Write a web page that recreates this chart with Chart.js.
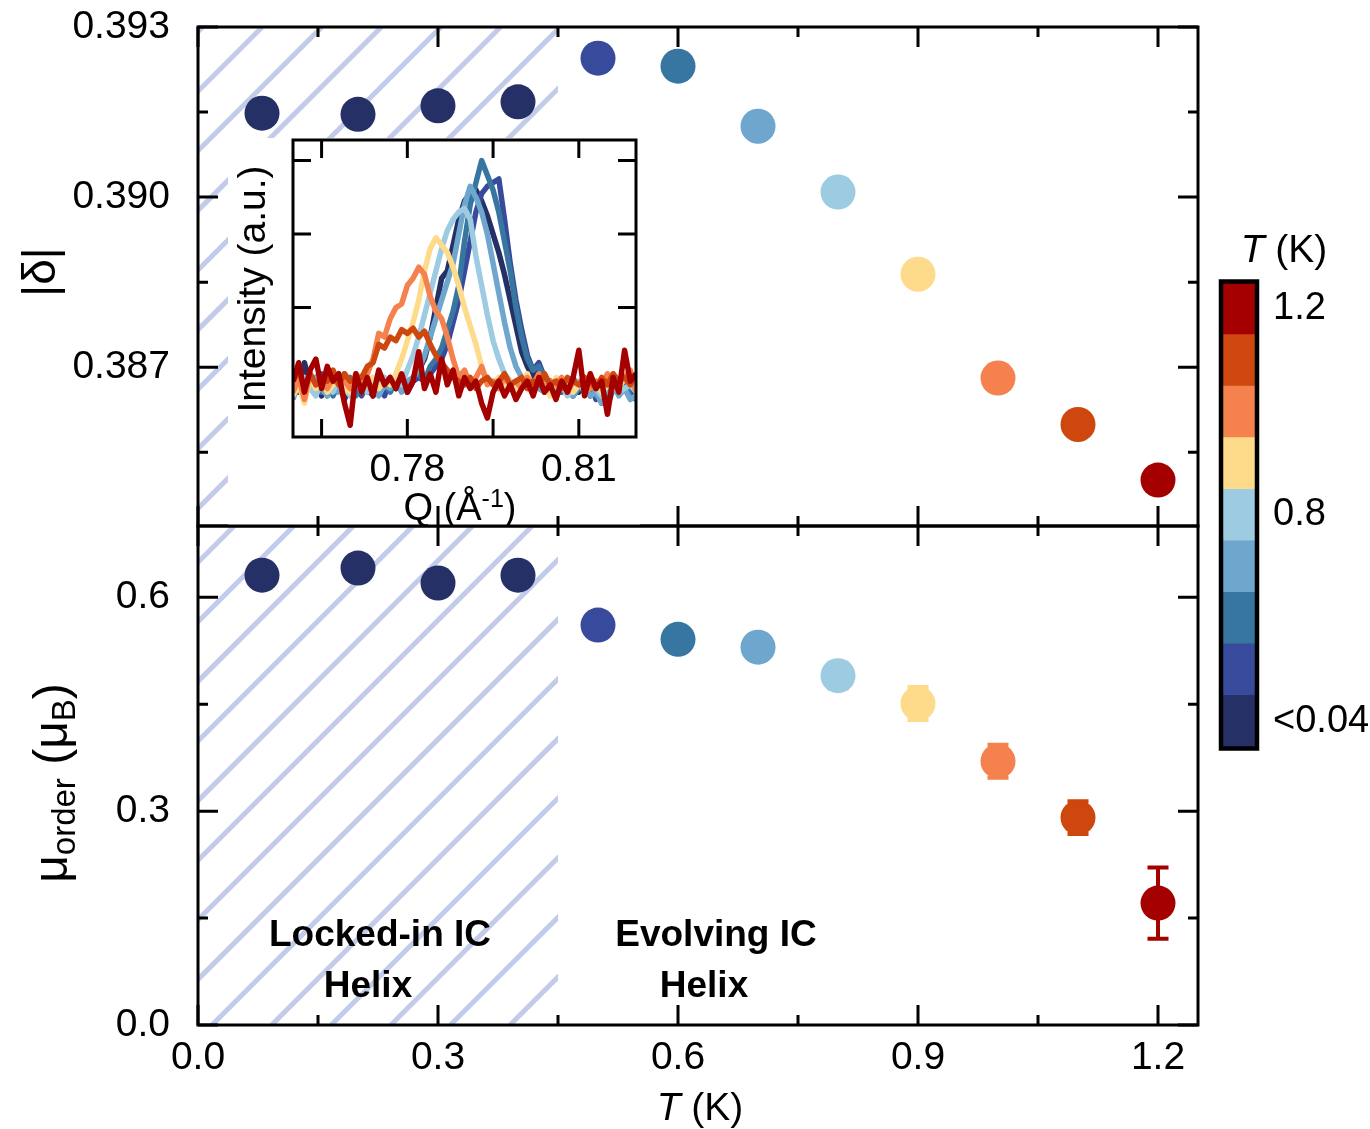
<!DOCTYPE html>
<html lang="en">
<head>
<meta charset="utf-8">
<title>delta y momento vs T</title>
<script src="https://cdn.jsdelivr.net/npm/chart.js@4.4.0/dist/chart.umd.min.js"></script>
<style>
  html, body { margin: 0; padding: 0; background: #fff; }
  body { position: relative; width: 1370px; height: 1129px; overflow: hidden; }
  canvas { position: absolute; }
</style>
</head>
<body>
<canvas id="graficoInferior" width="1220" height="649" style="left:0;top:480px"></canvas>
<canvas id="graficoSuperior" width="1220" height="596" style="left:0;top:-20px"></canvas>
<canvas id="graficoInset" width="420" height="388" style="left:228px;top:138px"></canvas>
<canvas id="graficoBarra" width="165" height="570" style="left:1205px;top:220px"></canvas>
<script>
const FUENTE = "'Liberation Sans', Arial, Helvetica, sans-serif";
Chart.defaults.font.family = FUENTE;
Chart.defaults.color = '#000';

// Datos de los paneles principales
const temperaturas = [0.08, 0.2, 0.3, 0.4, 0.5, 0.6, 0.7, 0.8, 0.9, 1.0, 1.1, 1.2];
const deltaValores = [0.39148, 0.39146, 0.39161, 0.39168, 0.39245, 0.39231, 0.39125, 0.39009, 0.38864, 0.38681, 0.38599, 0.38501];
const momentoValores = [0.631, 0.641, 0.620, 0.631, 0.561, 0.541, 0.530, 0.490, 0.451, 0.370, 0.291, 0.171];
const momentoErrores = [0.012, 0.012, 0.012, 0.012, 0.014, 0.015, 0.016, 0.018, 0.023, 0.023, 0.023, 0.050];

// Escala de colores (de <0.04 K a 1.2 K)
const escalaColores = ['#253066', '#384a9b', '#3776a1', '#6ea6ce', '#9dcbe2', '#fedb8a', '#f5824e', '#cd470e', '#a50000'];
const escalaEtiquetas = ['<0.04', '0.8', '1.2'];
const escalaPosiciones = [0.5, 4.5, 8.5];
const coloresPuntos = [
  escalaColores[0], escalaColores[0], escalaColores[0], escalaColores[0],
  escalaColores[1], escalaColores[2], escalaColores[3], escalaColores[4],
  escalaColores[5], escalaColores[6], escalaColores[7], escalaColores[8]
];

// Ticks
const ticksT = [0, 0.15, 0.3, 0.45, 0.6, 0.75, 0.9, 1.05, 1.2];
const ticksTMayores = [0, 0.3, 0.6, 0.9, 1.2];
const ticksDelta = [0.3855, 0.387, 0.3885, 0.39, 0.3915, 0.393];
const ticksDeltaMayores = [0.387, 0.39, 0.393];
const ticksMomento = [0, 0.15, 0.3, 0.45, 0.6];
const ticksMomentoMayores = [0, 0.3, 0.6];
const limiteBloqueado = 0.45;

const anotaciones = [
  { texto: 'Locked-in IC', t: 0.2275, m: 0.1110 },
  { texto: 'Helix', t: 0.2125, m: 0.0393 },
  { texto: 'Evolving IC', t: 0.6475, m: 0.1110 },
  { texto: 'Helix', t: 0.6325, m: 0.0393 }
];

// Datos del inset: intensidad vs Q
const qValores = [
  0.760, 0.761, 0.762, 0.763, 0.764, 0.765, 0.766, 0.767, 0.768, 0.769,
  0.770, 0.771, 0.772, 0.773, 0.774, 0.775, 0.776, 0.777, 0.778, 0.779,
  0.780, 0.781, 0.782, 0.783, 0.784, 0.785, 0.786, 0.787, 0.788, 0.789,
  0.790, 0.791, 0.792, 0.793, 0.794, 0.795, 0.796, 0.797, 0.798, 0.799,
  0.800, 0.801, 0.802, 0.803, 0.804, 0.805, 0.806, 0.807, 0.808, 0.809,
  0.810, 0.811, 0.812, 0.813, 0.814, 0.815, 0.816, 0.817, 0.818, 0.819, 0.820
];
const espectroT004 = [
  1.10, 0.85, 1.25, 0.95, 1.05, 0.80, 1.15, 0.90, 1.00, 0.75,
  0.95, 0.85, 1.05, 0.90, 0.80, 1.00, 0.85, 0.95, 0.90, 1.05,
  0.85, 1.00, 1.15, 1.30, 1.60, 2.00, 2.40, 2.50, 2.85, 3.20,
  3.45, 3.55, 3.60, 3.45, 3.25, 3.00, 2.75, 2.45, 2.10, 1.75,
  1.40, 1.20, 1.05, 1.15, 0.95, 1.00, 0.85, 0.95, 0.90, 1.05,
  0.85, 1.00, 0.80, 0.95, 0.70, 0.90, 1.05, 0.85, 0.95, 0.80, 1.00
];
const espectroT05 = [
  0.95, 1.20, 0.90, 1.05, 0.85, 1.10, 0.80, 1.00, 0.90, 1.10,
  0.85, 0.95, 0.80, 1.00, 0.90, 0.95, 0.80, 1.05, 0.90, 0.95,
  0.90, 1.00, 1.05, 1.00, 1.10, 1.20, 1.30, 1.50, 1.80, 2.10,
  2.50, 2.90, 3.30, 3.55, 3.65, 3.70, 3.75, 3.20, 2.60, 2.10,
  1.70, 1.35, 1.15, 1.25, 1.05, 0.95, 1.00, 0.85, 0.90, 0.80,
  0.95, 0.85, 1.00, 0.75, 0.90, 0.70, 0.95, 0.85, 1.00, 0.90, 0.85
];
const espectroT06 = [
  0.90, 1.05, 0.80, 1.00, 0.95, 0.85, 1.10, 0.80, 0.95, 0.90,
  1.05, 0.80, 0.95, 0.85, 1.00, 0.90, 0.95, 0.85, 1.00, 0.90,
  0.95, 1.05, 1.10, 1.00, 1.20, 1.30, 1.45, 1.70, 1.95, 2.30,
  2.90, 3.40, 3.70, 4.00, 3.80, 3.60, 3.30, 2.90, 2.50, 2.00,
  1.60, 1.30, 1.15, 1.20, 1.05, 0.90, 1.00, 0.85, 0.95, 0.80,
  0.90, 1.00, 0.85, 0.80, 0.95, 0.65, 0.90, 0.85, 0.95, 0.80, 0.75
];
const espectroT07 = [
  0.75, 1.00, 0.85, 0.95, 1.05, 0.90, 0.80, 1.00, 0.85, 0.95,
  0.90, 1.05, 0.85, 0.90, 1.00, 0.80, 0.95, 0.90, 1.00, 0.85,
  1.00, 1.05, 1.15, 1.35, 1.60, 1.85, 2.10, 2.35, 2.60, 3.00,
  3.40, 3.65, 3.50, 3.30, 3.00, 2.60, 2.20, 1.80, 1.45, 1.20,
  1.05, 0.95, 1.00, 0.90, 0.85, 1.00, 0.90, 0.95, 0.85, 0.80,
  0.95, 0.90, 0.80, 0.85, 0.70, 0.90, 0.95, 0.80, 0.90, 0.75, 0.80
];
const espectroT08 = [
  0.85, 0.95, 1.05, 0.90, 0.80, 1.00, 0.95, 0.85, 1.05, 0.90,
  0.80, 0.95, 1.00, 0.85, 0.95, 0.90, 1.05, 0.95, 1.00, 0.95,
  1.15, 1.35, 1.60, 1.90, 2.20, 2.50, 2.80, 3.05, 3.20, 3.30,
  3.35, 3.20, 2.70, 2.30, 1.90, 1.55, 1.30, 1.10, 1.00, 0.95,
  1.00, 0.90, 0.95, 1.05, 0.90, 0.85, 1.00, 0.95, 0.80, 0.90,
  1.00, 0.85, 0.95, 0.90, 0.80, 0.95, 1.00, 0.85, 0.90, 0.95, 0.85
];
const espectroT09 = [
  0.80, 0.95, 0.70, 1.05, 0.90, 1.00, 0.85, 0.95, 1.10, 0.90,
  0.85, 1.00, 0.90, 0.95, 1.05, 0.90, 1.00, 0.95, 1.10, 1.30,
  1.55, 1.80, 2.10, 2.50, 2.80, 2.95, 2.85, 2.75, 2.55, 2.30,
  2.00, 1.75, 1.50, 1.20, 1.00, 0.95, 1.05, 0.90, 1.00, 0.85,
  0.95, 1.10, 0.90, 1.00, 0.95, 0.80, 1.05, 0.90, 1.00, 0.85,
  0.95, 1.05, 0.90, 1.00, 0.85, 0.95, 1.10, 0.90, 1.05, 0.95, 1.00
];
const espectroT10 = [
  0.85, 1.05, 0.75, 1.10, 0.95, 1.00, 0.90, 1.05, 0.95, 1.00,
  0.90, 1.10, 1.00, 1.10, 1.30, 1.65, 1.60, 1.85, 2.00, 2.05,
  2.30, 2.40, 2.55, 2.45, 2.15, 1.95, 1.85, 1.60, 1.30, 1.05,
  1.15, 0.95, 1.05, 1.20, 0.95, 1.00, 0.90, 1.05, 0.95, 1.00,
  0.90, 1.05, 0.95, 1.10, 0.90, 1.00, 0.95, 1.05, 0.85, 1.00,
  0.95, 1.05, 0.90, 1.00, 0.95, 1.10, 0.90, 1.00, 1.05, 1.15, 0.85
];
const espectroT11 = [
  1.00, 1.15, 0.90, 1.10, 0.95, 1.05, 1.00, 1.15, 0.95, 1.10,
  1.00, 1.05, 1.05, 1.20, 1.25, 1.50, 1.45, 1.60, 1.55, 1.70,
  1.65, 1.72, 1.60, 1.68, 1.50, 1.35, 1.25, 1.15, 1.05, 1.00,
  0.95, 1.05, 0.90, 1.00, 1.05, 0.95, 1.00, 1.10, 0.95, 1.00,
  1.05, 0.90, 1.00, 0.95, 1.10, 0.95, 1.00, 0.90, 1.05, 1.00,
  0.95, 1.05, 1.00, 0.90, 1.05, 0.95, 1.10, 1.00, 1.05, 0.95, 1.10
];
const espectroT12 = [
  1.00, 1.25, 0.85, 1.15, 1.30, 0.90, 1.20, 1.00, 1.10, 0.70,
  0.40, 1.10, 0.85, 1.05, 0.80, 1.15, 0.95, 1.05, 0.90, 1.10,
  0.85, 1.00, 1.40, 0.90, 1.10, 0.85, 1.30, 0.95, 1.15, 0.80,
  1.05, 0.90, 1.00, 0.70, 0.50, 0.85, 1.00, 0.80, 0.95, 0.75,
  0.90, 1.00, 0.80, 1.05, 0.85, 0.95, 0.75, 1.00, 0.85, 1.05,
  1.42, 0.80, 1.10, 0.90, 1.00, 0.55, 1.05, 0.85, 1.42, 1.00, 1.10
];
// el primero se dibuja encima
const espectros = [espectroT12, espectroT11, espectroT10, espectroT09, espectroT08, espectroT07, espectroT06, espectroT05, espectroT004];
const espectroColores = [escalaColores[8], escalaColores[7], escalaColores[6], escalaColores[5], escalaColores[4], escalaColores[3], escalaColores[2], escalaColores[1], escalaColores[0]];
const ticksQ = [0.765, 0.78, 0.795, 0.81];
const ticksQMayores = [0.78, 0.81];
const ticksIntensidad = [2, 3, 4];

// Desplazamiento vertical de cada canvas (para escribir títulos en coordenadas de página)
const OFF_SUP = -20, OFF_INF = 480, OFF_INSET = 138, OFF_BARRA = 220;

function esMayor(v, lista) {
  return lista.some(m => Math.abs(m - v) < 1e-9);
}

function fuente(p) {
  return (p.italic ? 'italic ' : '') + (p.bold ? 'bold ' : '') + p.size + 'px ' + FUENTE;
}

// Texto con subíndices / superíndices, centrado en x, línea base en y
function textoRico(ctx, partes, x, y, angulo) {
  ctx.save();
  ctx.translate(x, y);
  ctx.rotate(angulo || 0);
  ctx.fillStyle = '#000';
  ctx.textAlign = 'left';
  ctx.textBaseline = 'alphabetic';
  let total = 0;
  partes.forEach(p => { ctx.font = fuente(p); p.w = ctx.measureText(p.t).width; total += p.w; });
  let cx = -total / 2;
  partes.forEach(p => { ctx.font = fuente(p); ctx.fillText(p.t, cx, p.dy || 0); cx += p.w; });
  ctx.restore();
}

// Marco con ticks hacia dentro en los cuatro lados
function crearMarco(ticksX, mayoresX, ticksY, mayoresY, largo, corto) {
  return {
    id: 'marco',
    afterDraw(chart) {
      const { ctx, chartArea: a, scales: { x, y } } = chart;
      ctx.save();
      ctx.strokeStyle = '#000';
      ctx.lineWidth = 3;
      ctx.beginPath();
      ticksX.forEach(v => {
        const px = x.getPixelForValue(v);
        const l = esMayor(v, mayoresX) ? largo : corto;
        ctx.moveTo(px, a.bottom); ctx.lineTo(px, a.bottom - l);
        ctx.moveTo(px, a.top); ctx.lineTo(px, a.top + l);
      });
      ticksY.forEach(v => {
        const py = y.getPixelForValue(v);
        const l = esMayor(v, mayoresY) ? largo : corto;
        ctx.moveTo(a.left, py); ctx.lineTo(a.left + l, py);
        ctx.moveTo(a.right, py); ctx.lineTo(a.right - l, py);
      });
      ctx.stroke();
      ctx.strokeRect(a.left, a.top, a.right - a.left, a.bottom - a.top);
      ctx.restore();
    }
  };
}

// Rayado de la región "locked-in"
function crearRayado(desfase, mascara) {
  return {
    id: 'rayado',
    beforeDatasetsDraw(chart) {
      const { ctx, chartArea: a, scales: { x } } = chart;
      const derecha = x.getPixelForValue(limiteBloqueado);
      const paso = 59.6;
      let c = a.left + a.bottom + desfase;
      while (c > a.left + a.top) c -= paso;
      ctx.save();
      ctx.beginPath();
      ctx.rect(a.left, a.top, derecha - a.left, a.bottom - a.top);
      ctx.clip();
      ctx.strokeStyle = '#c3cbea';
      ctx.lineWidth = 5;
      ctx.beginPath();
      for (; c < derecha + a.bottom + paso; c += paso) {
        ctx.moveTo(c - a.bottom, a.bottom);
        ctx.lineTo(c - a.top, a.top);
      }
      ctx.stroke();
      ctx.restore();
      if (mascara) {
        ctx.save();
        ctx.fillStyle = '#fff';
        ctx.fillRect(mascara[0], mascara[1], mascara[2], mascara[3]);
        ctx.restore();
      }
    }
  };
}

const barrasError = {
  id: 'barrasError',
  beforeDatasetsDraw(chart) {
    const { ctx, scales: { x, y } } = chart;
    ctx.save();
    ctx.lineWidth = 4;
    temperaturas.forEach((t, i) => {
      const px = x.getPixelForValue(t);
      const y1 = y.getPixelForValue(momentoValores[i] + momentoErrores[i]);
      const y2 = y.getPixelForValue(momentoValores[i] - momentoErrores[i]);
      ctx.strokeStyle = coloresPuntos[i];
      ctx.beginPath();
      ctx.moveTo(px, y1); ctx.lineTo(px, y2);
      ctx.moveTo(px - 10.5, y1); ctx.lineTo(px + 10.5, y1);
      ctx.moveTo(px - 10.5, y2); ctx.lineTo(px + 10.5, y2);
      ctx.stroke();
    });
    ctx.restore();
  }
};

function ejeT(mostrar, alto) {
  return {
    type: 'linear', min: 0, max: 1.25,
    grid: { display: false }, border: { display: false },
    afterBuildTicks: s => { s.ticks = ticksT.map(v => ({ value: v })); },
    ticks: {
      display: mostrar, autoSkip: false, maxRotation: 0, padding: 2, font: { size: 39 },
      callback: v => esMayor(v, ticksTMayores) ? v.toFixed(1) : ''
    },
    afterFit: s => { s.height = alto; }
  };
}

function ejeY(min, max, ticks, mayores, decimales) {
  return {
    type: 'linear', min: min, max: max,
    grid: { display: false }, border: { display: false },
    afterBuildTicks: s => { s.ticks = ticks.map(v => ({ value: v })); },
    ticks: {
      autoSkip: false, padding: 20, font: { size: 39 },
      callback: v => esMayor(v, mayores) ? v.toFixed(decimales) : ''
    },
    afterFit: s => { s.width = 198; }
  };
}

const opcionesBase = {
  responsive: false, animation: false, devicePixelRatio: 1, events: [],
  plugins: { legend: { display: false }, tooltip: { enabled: false } }
};

// Panel superior: |delta|
new Chart(document.getElementById('graficoSuperior').getContext('2d'), {
  type: 'scatter',
  data: {
    datasets: [{
      data: temperaturas.map((t, i) => ({ x: t, y: deltaValores[i] })),
      pointRadius: 17.5, pointHoverRadius: 17.5,
      pointBackgroundColor: coloresPuntos, pointBorderWidth: 0
    }]
  },
  options: {
    ...opcionesBase,
    layout: { padding: { top: 47, right: 22, left: 0, bottom: 0 } },
    scales: {
      x: ejeT(false, 50),
      y: ejeY(0.3842, 0.393, ticksDelta, ticksDeltaMayores, 3)
    }
  },
  plugins: [
    crearRayado(42, [228, 138 - OFF_SUP, 412, 388]),
    crearMarco(ticksT, ticksTMayores, ticksDelta, ticksDeltaMayores, 20, 10),
    {
      id: 'titulos',
      afterDraw(chart) {
        textoRico(chart.ctx, [{ t: '|δ|', size: 46 }], 55, 272 - OFF_SUP, -Math.PI / 2);
      }
    }
  ]
});

// Panel inferior: momento ordenado
new Chart(document.getElementById('graficoInferior').getContext('2d'), {
  type: 'scatter',
  data: {
    datasets: [{
      data: temperaturas.map((t, i) => ({ x: t, y: momentoValores[i] })),
      pointRadius: 17.5, pointHoverRadius: 17.5,
      pointBackgroundColor: coloresPuntos, pointBorderWidth: 0
    }]
  },
  options: {
    ...opcionesBase,
    layout: { padding: { top: 46, right: 22, left: 0, bottom: 0 } },
    scales: {
      x: ejeT(true, 104),
      y: ejeY(0, 0.7, ticksMomento, ticksMomentoMayores, 1)
    }
  },
  plugins: [
    crearRayado(14, null),
    barrasError,
    crearMarco(ticksT, ticksTMayores, ticksMomento, ticksMomentoMayores, 20, 10),
    {
      id: 'titulos',
      afterDraw(chart) {
        const { ctx, scales: { x, y } } = chart;
        textoRico(ctx, [
          { t: 'μ', size: 48 }, { t: 'order', size: 33, dy: 8 },
          { t: ' (μ', size: 48 }, { t: 'B', size: 33, dy: 8 }, { t: ')', size: 48 }
        ], 67, 783 - OFF_INF, -Math.PI / 2);
        textoRico(ctx, [{ t: 'T', size: 39, italic: true }, { t: ' (K)', size: 39 }], 700, 1120 - OFF_INF);
        anotaciones.forEach(n => {
          textoRico(ctx, [{ t: n.texto, size: 37, bold: true }], x.getPixelForValue(n.t), y.getPixelForValue(n.m));
        });
      }
    }
  ]
});

// Inset: espectros
new Chart(document.getElementById('graficoInset').getContext('2d'), {
  type: 'line',
  data: {
    datasets: espectros.map((serie, k) => ({
      data: qValores.map((q, i) => ({ x: q, y: serie[i] })),
      borderColor: espectroColores[k], borderWidth: 5.5, borderJoinStyle: 'round',
      pointRadius: 0, tension: 0, fill: false
    }))
  },
  options: {
    ...opcionesBase,
    layout: { padding: { top: 2, right: 12, left: 0, bottom: 0 } },
    scales: {
      x: {
        type: 'linear', min: 0.76, max: 0.82,
        grid: { display: false }, border: { display: false },
        afterBuildTicks: s => { s.ticks = ticksQ.map(v => ({ value: v })); },
        ticks: {
          autoSkip: false, maxRotation: 0, padding: 2, font: { size: 39 },
          callback: v => esMayor(v, ticksQMayores) ? v.toFixed(2) : ''
        },
        afterFit: s => { s.height = 89; }
      },
      y: {
        type: 'linear', min: 0.24, max: 4.28,
        grid: { display: false }, border: { display: false },
        afterBuildTicks: s => { s.ticks = ticksIntensidad.map(v => ({ value: v })); },
        ticks: { display: false },
        afterFit: s => { s.width = 65; }
      }
    }
  },
  plugins: [
    crearMarco(ticksQ, ticksQ, ticksIntensidad, ticksIntensidad, 18, 18),
    {
      id: 'titulos',
      afterDraw(chart) {
        const ctx = chart.ctx;
        textoRico(ctx, [{ t: 'Intensity (a.u.)', size: 39 }], 265 - 228, 289 - OFF_INSET, -Math.PI / 2);
        textoRico(ctx, [{ t: 'Q (Å', size: 38 }, { t: '-1', size: 25, dy: -13 }, { t: ')', size: 38 }], 460 - 228, 520 - OFF_INSET);
      }
    }
  ]
});

// Barra de colores
new Chart(document.getElementById('graficoBarra').getContext('2d'), {
  type: 'bar',
  data: {
    labels: [''],
    datasets: escalaColores.map(c => ({
      data: [1], backgroundColor: c, borderWidth: 0,
      barPercentage: 1, categoryPercentage: 1
    }))
  },
  options: {
    ...opcionesBase,
    layout: { padding: { left: 18, top: 63, bottom: 43, right: 0 } },
    scales: {
      x: { stacked: true, display: false },
      y: {
        stacked: true, position: 'right', min: 0, max: 9,
        grid: { display: false }, border: { display: false },
        afterBuildTicks: s => { s.ticks = escalaPosiciones.map(v => ({ value: v })); },
        ticks: { autoSkip: false, padding: 10, font: { size: 38 }, callback: (v, i) => escalaEtiquetas[i] },
        afterFit: s => { s.width = 115; }
      }
    }
  },
  plugins: [{
    id: 'marcoBarra',
    afterDraw(chart) {
      const { ctx, chartArea: a } = chart;
      ctx.save();
      ctx.strokeStyle = '#000';
      ctx.lineWidth = 4.5;
      ctx.strokeRect(a.left - 2, a.top - 1.5, a.right - a.left + 4, a.bottom - a.top + 3);
      ctx.restore();
      textoRico(ctx, [{ t: 'T', size: 39, italic: true }, { t: ' (K)', size: 39 }], 1284 - 1205, 262 - OFF_BARRA);
    }
  }]
});
</script>
</body>
</html>
